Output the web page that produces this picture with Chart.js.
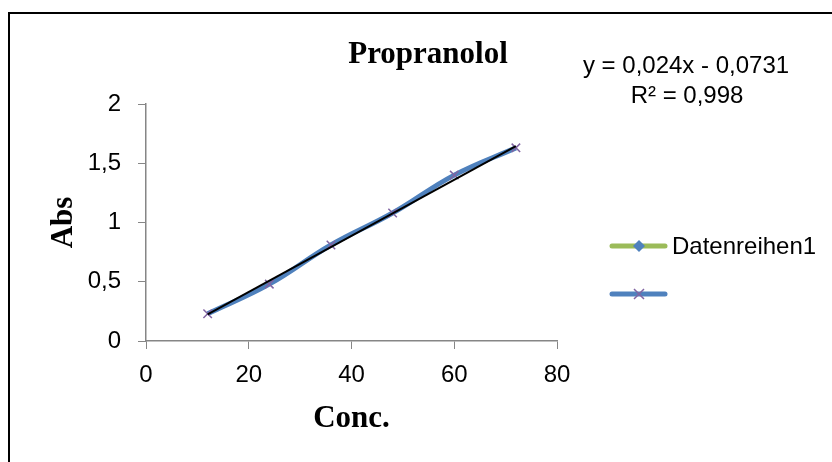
<!DOCTYPE html>
<html>
<head>
<meta charset="utf-8">
<script src="https://cdn.jsdelivr.net/npm/chart.js@4"></script>
<style>
  html, body { margin: 0; padding: 0; background: #fff; }
  #wrap { width: 832px; height: 462px; }
</style>
</head>
<body>
<div id="wrap"><canvas id="chart" width="832" height="462"></canvas></div>
<script>
// ══ DATA ═════════════════════════════════════════════════════════
const chartTitle = 'Propranolol';
const seriesName = 'Datenreihen1';
const xTitle = 'Conc.';
const yTitle = 'Abs';
const concentrations = [12, 24, 36, 48, 60, 72];
const absorbances = [0.23, 0.48, 0.81, 1.08, 1.40, 1.63];
// linear trendline end points
const trendX = [12, 72];
const trendY = [0.225, 1.645];
const xTicks = [0, 20, 40, 60, 80];
const yTicks = [0, 0.5, 1, 1.5, 2];
const equationLines = ['y = 0,024x - 0,0731', 'R² = 0,998'];

// ══ STYLE ════════════════════════════════════════════════════════
const BLUE = '#4F81BD', PURPLE = '#8064A2', GREEN = '#9BBB59', AXIS = '#868686';
const SANS = '"Liberation Sans", Arial, sans-serif';
const SERIF = '"Liberation Serif", "Times New Roman", serif';

function drawCross(ctx, x, y, r) {
  ctx.beginPath();
  ctx.moveTo(x - r, y - r); ctx.lineTo(x + r, y + r);
  ctx.moveTo(x - r, y + r); ctx.lineTo(x + r, y - r);
  ctx.stroke();
}

// title, equation box, legend and frame drawn on top
const decorPlugin = {
  id: 'decor',
  afterDraw(chart) {
    const ctx = chart.ctx;
    ctx.save();
    // frame (cut at right / bottom like the source)
    ctx.strokeStyle = '#000';
    ctx.lineWidth = 2;
    ctx.beginPath();
    ctx.moveTo(9, 470); ctx.lineTo(9, 13); ctx.lineTo(840, 13);
    ctx.stroke();

    // chart title
    ctx.fillStyle = '#000';
    ctx.textAlign = 'center';
    ctx.textBaseline = 'alphabetic';
    ctx.font = 'bold 31px ' + SERIF;
    ctx.fillText(chartTitle, 428, 63);

    // trendline equation
    ctx.font = '24px ' + SANS;
    ctx.fillText(equationLines[0], 686, 73);
    ctx.fillText(equationLines[1], 687, 103);

    // legend
    ctx.lineCap = 'round';
    ctx.lineWidth = 5;
    ctx.strokeStyle = GREEN;
    ctx.beginPath(); ctx.moveTo(612, 246); ctx.lineTo(665, 246); ctx.stroke();
    ctx.fillStyle = BLUE;
    ctx.beginPath();
    ctx.moveTo(639, 240); ctx.lineTo(645, 246); ctx.lineTo(639, 252); ctx.lineTo(633, 246);
    ctx.closePath(); ctx.fill();

    ctx.strokeStyle = BLUE;
    ctx.beginPath(); ctx.moveTo(612, 294); ctx.lineTo(665, 294); ctx.stroke();
    ctx.lineCap = 'butt';
    ctx.lineWidth = 1.5;
    ctx.strokeStyle = PURPLE;
    drawCross(ctx, 639, 294, 5);

    ctx.fillStyle = '#000';
    ctx.textAlign = 'left';
    ctx.font = '24px ' + SANS;
    ctx.fillText(seriesName, 672, 254);
    ctx.restore();
  }
};

new Chart(document.getElementById('chart'), {
  type: 'scatter',
  data: {
    datasets: [
      {
        label: 'Linear trend',
        data: trendX.map((x, i) => ({ x, y: trendY[i] })),
        showLine: true,
        borderColor: '#000', borderWidth: 2,
        pointRadius: 0, tension: 0,
        order: 1,
      },
      {
        label: seriesName,
        data: concentrations.map((x, i) => ({ x, y: absorbances[i] })),
        showLine: true,
        borderColor: BLUE, borderWidth: 5,
        tension: 0.4,
        pointStyle: 'crossRot', pointRadius: 6,
        pointBorderColor: PURPLE, pointBorderWidth: 1.5,
        pointBackgroundColor: PURPLE,
        order: 2,
      },
    ]
  },
  options: {
    responsive: false,
    animation: false,
    layout: { padding: { left: 0, right: 275, top: 104, bottom: 0 } },
    plugins: { legend: { display: false }, tooltip: { enabled: false }, title: { display: false } },
    scales: {
      x: {
        type: 'linear', min: xTicks[0], max: xTicks[xTicks.length - 1],
        afterBuildTicks(scale) { scale.ticks = xTicks.map(v => ({ value: v })); },
        afterFit(scale) { scale.height = 121; },
        grid: { drawOnChartArea: false, drawTicks: true, tickLength: 8, color: AXIS },
        border: { display: true, color: AXIS, width: 1.5 },
        ticks: { color: '#000', font: { size: 24, family: SANS }, padding: 12, maxRotation: 0 },
        title: { display: true, text: xTitle, color: '#000', font: { size: 31, weight: 'bold', family: SERIF }, padding: { top: 0, bottom: 24 } },
      },
      y: {
        type: 'linear', min: yTicks[0], max: yTicks[yTicks.length - 1],
        afterBuildTicks(scale) { scale.ticks = yTicks.map(v => ({ value: v })); },
        afterFit(scale) { scale.width = 146; },
        grid: { drawOnChartArea: false, drawTicks: true, tickLength: 8, color: AXIS },
        border: { display: true, color: AXIS, width: 1.5 },
        ticks: { color: '#000', font: { size: 24, family: SANS }, padding: 17, callback: v => String(v).replace('.', ',') },
        title: { display: true, text: yTitle, color: '#000', font: { size: 31, weight: 'bold', family: SERIF }, padding: { top: 45, bottom: 0 } },
      },
    },
  },
  plugins: [decorPlugin],
});
</script>
</body>
</html>
